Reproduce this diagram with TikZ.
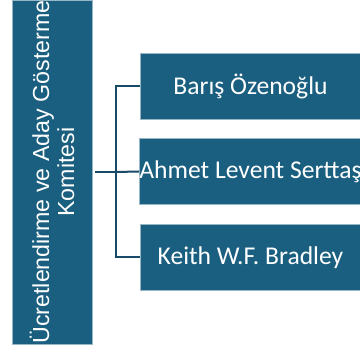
\documentclass[tikz,border=0pt]{standalone}
\usepackage{fontspec}
\setmainfont{Liberation Sans}
\newfontfamily\carl{Carlito}
\definecolor{boxblue}{HTML}{1A5F80}
\definecolor{connblue}{HTML}{174A66}
\begin{document}
\begin{tikzpicture}[x=1pt,y=-1pt,
  box/.style={fill=boxblue, draw=boxblue!45!white, line width=0.6pt, inner sep=0pt, text=white},
  member/.style={box, minimum width=221pt, minimum height=66pt, font=\carl\fontsize{25.6}{28}\selectfont},
  conn/.style={draw=connblue, line width=2pt}]
\useasboundingbox (0,0) rectangle (360,352);
\clip (0,0) rectangle (360,352);
\node[box, rotate=90, minimum width=344pt, minimum height=80pt, align=center,
  font=\fontsize{23.2}{25}\selectfont] (com) at (52,172)
  {Ücretlendirme ve Aday Gösterme\\Komitesi};
\node[member] (b1) at (250.5,86) {Barış Özenoğlu};
\node[member] (b2) at (250.5,171.5) {Ahmet Levent Serttaş};
\node[member] (b3) at (250.5,257.5) {Keith W.F. Bradley};
\coordinate (j) at (116,172);
\draw[conn] ([xshift=3pt]com.south) -- (j);
\draw[conn] (b1.west) -| (j) |- (b3.west);
\draw[conn] (j) -- (b2.west);
\end{tikzpicture}
\end{document}
